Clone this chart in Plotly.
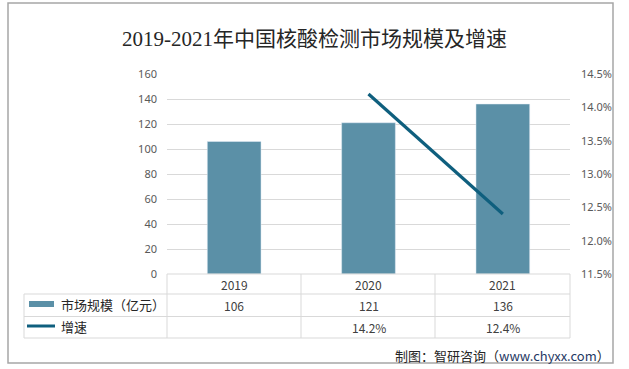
import plotly.graph_objects as go

years = ["2019", "2020", "2021"]
market = [106, 121, 136]
growth = [None, 14.2, 12.4]
left_ticks = [0, 20, 40, 60, 80, 100, 120, 140, 160]
right_ticks = [11.5, 12.0, 12.5, 13.0, 13.5, 14.0, 14.5]
title = "2019-2021年中国核酸检测市场规模及增速"
series_names = ["市场规模（亿元）", "增速"]
source = "制图：智研咨询（<span style='color:#1F3864'>www.chyxx.com</span>）"

W, H = 629, 369
BAR_COLOR = "#5B90A7"
LINE_COLOR = "#0F5F7E"
GRID = "#D9D9D9"
TXT = "#404040"
TICK = "#595959"
SANS = "Noto Sans CJK SC, Noto Sans, sans-serif"


def px(x):
    return x / W


def py(y):
    return 1 - y / H


x0, x1 = 167, 570
ytop, ybot = 74, 274

fig = go.Figure()
fig.add_trace(go.Bar(x=years, y=market, marker_color=BAR_COLOR, width=0.4,
                     name=series_names[0], yaxis="y", showlegend=False))
fig.add_trace(go.Scatter(x=years, y=growth, mode="lines", line=dict(color=LINE_COLOR, width=3.2),
                         name=series_names[1], yaxis="y2", showlegend=False, connectgaps=False))

shapes = []
# outer border
shapes.append(dict(type="rect", xref="paper", yref="paper", x0=px(8), x1=px(613), y0=py(363), y1=py(3),
                   line=dict(color="#A6A6A6", width=1.5)))
# table lines
rows = [274, 294, 316.5, 338]
for i, r in enumerate(rows):
    xs = x0 if i == 0 else 24
    shapes.append(dict(type="line", xref="paper", yref="paper", x0=px(xs), x1=px(x1), y0=py(r), y1=py(r),
                       line=dict(color=GRID, width=1)))
for c in [x0, 301, 435, x1]:
    shapes.append(dict(type="line", xref="paper", yref="paper", x0=px(c), x1=px(c), y0=py(274), y1=py(338),
                       line=dict(color=GRID, width=1)))
shapes.append(dict(type="line", xref="paper", yref="paper", x0=px(24), x1=px(24), y0=py(294), y1=py(338),
                   line=dict(color=GRID, width=1)))
# legend keys
shapes.append(dict(type="rect", xref="paper", yref="paper", x0=px(29), x1=px(54), y0=py(307), y1=py(301),
                   fillcolor=BAR_COLOR, line=dict(width=0)))
shapes.append(dict(type="line", xref="paper", yref="paper", x0=px(27), x1=px(55), y0=py(326), y1=py(326),
                   line=dict(color=LINE_COLOR, width=3)))

ann = []
ann.append(dict(text=title, x=px(315), y=py(39), xref="paper", yref="paper", showarrow=False,
                xanchor="center", yanchor="middle",
                font=dict(family="Liberation Serif, Noto Sans CJK SC, serif", size=21, color="#262626")))
for i, (yr, m, g) in enumerate(zip(years, market, growth)):
    ann.append(dict(text=yr, x=i, xref="x", y=py(284.5), yref="paper", showarrow=False,
                    yanchor="middle", font=dict(family=SANS, size=12, color=TXT)))
    ann.append(dict(text=str(m), x=i, xref="x", y=py(305.5), yref="paper", showarrow=False,
                    yanchor="middle", font=dict(family=SANS, size=12, color=TXT)))
    if g is not None:
        ann.append(dict(text=f"{g:.1f}%", x=i, xref="x", y=py(327.5), yref="paper", showarrow=False,
                        yanchor="middle", font=dict(family=SANS, size=12, color=TXT)))
ann.append(dict(text=series_names[0], x=px(59), y=py(304.5), xref="paper", yref="paper", showarrow=False,
                xanchor="left", yanchor="middle", font=dict(family=SANS, size=13, color="#262626")))
ann.append(dict(text=series_names[1], x=px(59), y=py(326.5), xref="paper", yref="paper", showarrow=False,
                xanchor="left", yanchor="middle", font=dict(family=SANS, size=13, color="#262626")))
ann.append(dict(text=source, x=px(612), y=py(355), xref="paper", yref="paper", showarrow=False,
                xanchor="right", yanchor="middle", font=dict(family=SANS, size=13, color="#262626")))

fig.update_layout(
    width=W, height=H, margin=dict(l=0, r=0, t=0, b=0, autoexpand=False),
    paper_bgcolor="white", plot_bgcolor="white",
    bargap=0.6,
    xaxis=dict(type="category", range=[-0.5, 2.5], domain=[px(x0), px(x1)], showticklabels=False,
               showgrid=False, zeroline=False, showline=False, ticks="", fixedrange=True),
    yaxis=dict(domain=[py(ybot), py(ytop)], range=[0, 160], tickvals=left_ticks, showgrid=True,
               gridcolor=GRID, gridwidth=1, zeroline=False, showline=False, ticks="",
               ticklabelstandoff=9, automargin=False,
               tickfont=dict(family="Noto Sans, sans-serif", size=11, color=TICK)),
    yaxis2=dict(overlaying="y", side="right", range=[11.5, 14.5], tickvals=right_ticks,
                ticktext=[f"{v:.1f}%" for v in right_ticks], showgrid=False, zeroline=False,
                showline=False, ticks="", ticklabelstandoff=10, automargin=False,
                tickfont=dict(family="Noto Sans, sans-serif", size=11, color=TICK)),
    shapes=shapes, annotations=ann, showlegend=False,
)

fig.write_html("out.html", config={"displayModeBar": False},
               post_script="document.body.style.margin='0';document.body.style.overflow='hidden';")
